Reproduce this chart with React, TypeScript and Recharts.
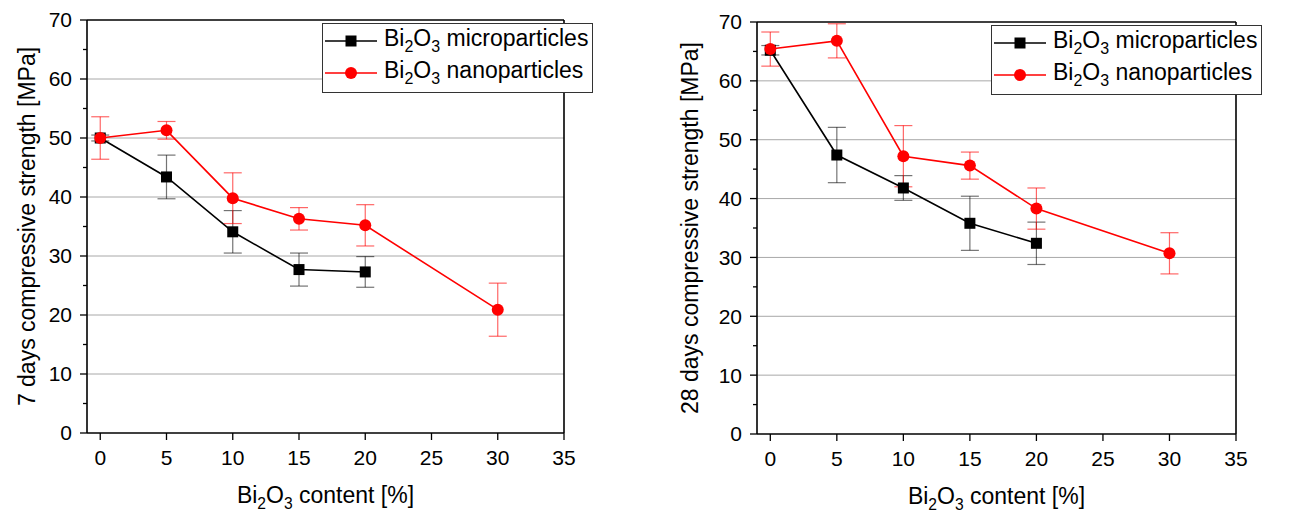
import React from "react"
import { LineChart, Line, XAxis, YAxis, ErrorBar, ReferenceLine, Legend } from "recharts"

const FONT = '"Liberation Sans", Arial, Helvetica, sans-serif'

// Bi2O3 content [%]
const xMicro = [0, 5, 10, 15, 20]
const xNano = [0, 5, 10, 15, 20, 30]

// 7 days compressive strength [MPa]
const micro7 = [50.0, 43.4, 34.1, 27.7, 27.3]
const micro7Err = [0.5, 3.7, 3.6, 2.8, 2.6]
const nano7 = [50.0, 51.3, 39.8, 36.3, 35.2, 20.9]
const nano7Err = [3.6, 1.5, 4.3, 1.9, 3.5, 4.5]

// 28 days compressive strength [MPa]
const micro28 = [65.2, 47.4, 41.8, 35.8, 32.4]
const micro28Err = [0.8, 4.7, 2.1, 4.6, 3.6]
const nano28 = [65.4, 66.8, 47.2, 45.6, 38.3, 30.7]
const nano28Err = [2.9, 2.9, 5.2, 2.3, 3.5, 3.5]

const xTicks = [0, 5, 10, 15, 20, 25, 30, 35]
const yTicks = [0, 5, 10, 15, 20, 25, 30, 35, 40, 45, 50, 55, 60, 65, 70]
const gridValues = [10, 20, 30, 40, 50, 60]
const seriesNames = ["microparticles", "nanoparticles"]

const rows = (xs: number[], ys: number[], errs: number[]) =>
  xs.map((x, i) => ({ x, y: ys[i], err: errs[i] }))

const RED = "#ff0000"

const SquareDot = (props: any) => {
  const { cx, cy } = props
  if (cx == null || cy == null) return null
  return <rect x={cx - 5.5} y={cy - 5.5} width={11} height={11} fill="#000" />
}

const YTick = (props: any) => {
  const { x, y, payload } = props
  const major = payload.value % 10 === 0
  if (!major) return <line x1={x + 11} x2={x + 15} y1={y} y2={y} stroke="#000" strokeWidth={1.3} />
  return (
    <g>
      <line x1={x + 8} x2={x + 15} y1={y} y2={y} stroke="#000" strokeWidth={1.3} />
      <text x={x} y={y} dy="0.355em" textAnchor="end" fontSize={21} fontFamily={FONT} fill="#000">
        {payload.value}
      </text>
    </g>
  )
}

const LegendBox = () => (
  <div
    style={{
      width: 271,
      height: 70,
      boxSizing: "border-box",
      border: "1px solid #333",
      background: "#fff",
      fontFamily: FONT,
      fontSize: 23,
      color: "#000",
      paddingTop: 1,
    }}
  >
    {seriesNames.map((name, i) => (
      <div key={name} style={{ display: "flex", alignItems: "center", height: 32, lineHeight: 1 }}>
        <svg width={56} height={16} style={{ marginLeft: 2, flex: "none" }}>
          <line x1={0} x2={52} y1={8} y2={8} stroke={i === 0 ? "#000" : RED} strokeWidth={1.6} />
          {i === 0 ? (
            <rect x={20.5} y={2.5} width={11} height={11} fill="#000" />
          ) : (
            <circle cx={26} cy={8} r={6} fill={RED} />
          )}
        </svg>
        <span style={{ marginLeft: 3, whiteSpace: "nowrap" }}>
          Bi<sub style={{ fontSize: 16 }}>2</sub>O<sub style={{ fontSize: 16 }}>3</sub> {name}
        </span>
      </div>
    ))}
  </div>
)

interface PanelProps {
  left: number
  width: number
  top: number
  yAxisWidth: number
  rightMargin: number
  xAxisHeight: number
  titleGap: number
  yTitle: string
  micro: { x: number; y: number; err: number }[]
  nano: { x: number; y: number; err: number }[]
  legendLeft: number
  legendTop: number
}

function Panel(p: PanelProps) {
  const yTitle = (props: any) => {
    const { x, y, width, height } = props.viewBox
    const cx = x + width - p.titleGap
    const cy = y + height / 2
    return (
      <text
        x={cx}
        y={cy}
        transform={`rotate(-90 ${cx} ${cy})`}
        textAnchor="middle"
        dominantBaseline="central"
        fontSize={23}
        fontFamily={FONT}
        fill="#000"
      >
        {p.yTitle}
      </text>
    )
  }
  const xTitle = (props: any) => {
    const { x, y, width } = props.viewBox
    const s = 23
    const sub = s * 0.28
    return (
      <text x={x + width / 2} y={y + 70} textAnchor="middle" fontSize={s} fontFamily={FONT} fill="#000">
        <tspan>Bi</tspan>
        <tspan fontSize={s * 0.68} dy={sub}>2</tspan>
        <tspan dy={-sub}>O</tspan>
        <tspan fontSize={s * 0.68} dy={sub}>3</tspan>
        <tspan dy={-sub}> content [%]</tspan>
      </text>
    )
  }
  return (
    <div style={{ position: "absolute", left: p.left, top: 0 }}>
      <LineChart
        width={p.width}
        height={513}
        margin={{ top: p.top, right: p.rightMargin, bottom: 0, left: 0 }}
      >
        <XAxis
          dataKey="x"
          type="number"
          domain={[-1, 35]}
          ticks={xTicks}
          allowDataOverflow
          height={p.xAxisHeight}
          tickSize={7}
          tickMargin={10}
          interval={0}
          stroke="#000"
          strokeWidth={1.6}
          tick={{ fontSize: 21, fontFamily: FONT, fill: "#000" }}
          tickLine={{ stroke: "#000", strokeWidth: 1.3 }}
          label={xTitle}
        />
        <YAxis
          dataKey="y"
          type="number"
          domain={[0, 70]}
          ticks={yTicks}
          allowDataOverflow
          width={p.yAxisWidth}
          tickSize={7}
          tickMargin={8}
          interval={0}
          stroke="#000"
          strokeWidth={1.6}
          tickLine={false}
          tick={<YTick />}
          label={yTitle}
        />
        {gridValues.map((v) => (
          <ReferenceLine key={v} y={v} stroke="#a8a8a8" strokeWidth={1} />
        ))}
        <ReferenceLine y={70} stroke="#000" strokeWidth={1.6} />
        <ReferenceLine x={35} stroke="#000" strokeWidth={1.6} />
        <Legend
          layout="vertical"
          align="center"
          verticalAlign="middle"
          content={() => <LegendBox />}
          wrapperStyle={{ left: p.legendLeft, top: p.legendTop, width: 271, height: 70 }}
        />
        <Line
          data={p.micro}
          dataKey="y"
          name="microparticles"
          stroke="#000"
          strokeWidth={1.6}
          dot={<SquareDot />}
          activeDot={false}
          isAnimationActive={false}
        >
          <ErrorBar dataKey="err" direction="y" width={9} stroke="#000" strokeOpacity={0.55} strokeWidth={1.2} />
        </Line>
        <Line
          data={p.nano}
          dataKey="y"
          name="nanoparticles"
          stroke={RED}
          strokeWidth={1.6}
          dot={{ r: 6, fill: RED, stroke: RED, strokeWidth: 0 }}
          activeDot={false}
          isAnimationActive={false}
        >
          <ErrorBar dataKey="err" direction="y" width={9} stroke={RED} strokeOpacity={0.6} strokeWidth={1.2} />
        </Line>
      </LineChart>
    </div>
  )
}

export default function App() {
  return (
    <div style={{ position: "absolute", left: 0, top: 0, width: 1296, height: 513, background: "#fff", overflow: "hidden" }}>
      <Panel
        left={0}
        width={640}
        top={20}
        yAxisWidth={87}
        rightMargin={76}
        xAxisHeight={80}
        titleGap={60}
        yTitle="7 days compressive strength [MPa]"
        micro={rows(xMicro, micro7, micro7Err)}
        nano={rows(xNano, nano7, nano7Err)}
        legendLeft={322}
        legendTop={23}
      />
      <Panel
        left={648}
        width={648}
        top={22}
        yAxisWidth={109}
        rightMargin={60}
        xAxisHeight={79}
        titleGap={67}
        yTitle="28 days compressive strength [MPa]"
        micro={rows(xMicro, micro28, micro28Err)}
        nano={rows(xNano, nano28, nano28Err)}
        legendLeft={343}
        legendTop={25}
      />
    </div>
  )
}
